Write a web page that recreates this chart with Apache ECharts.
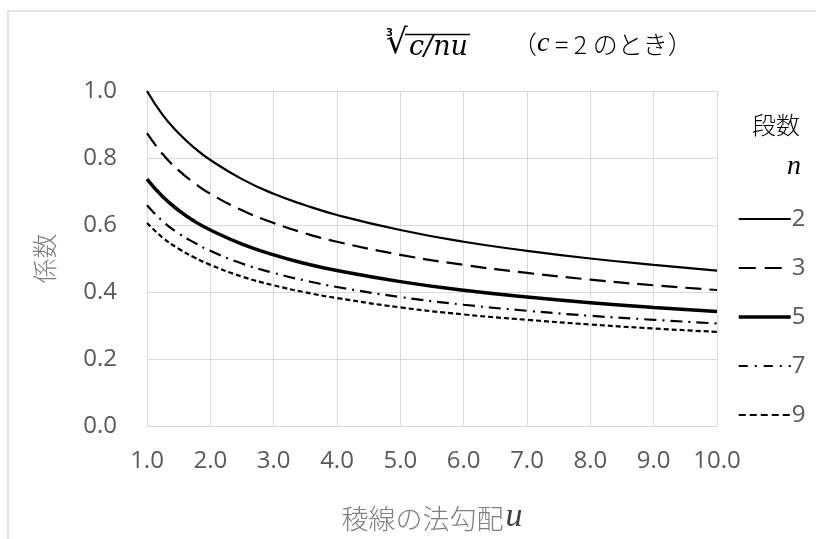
<!DOCTYPE html>
<html>
<head>
<meta charset="utf-8">
<script src="https://cdn.jsdelivr.net/npm/echarts@6/dist/echarts.min.js"></script>
<style>
html,body{margin:0;padding:0;background:#fff;}
#main{width:816px;height:539px;}
</style>
</head>
<body>
<div id="main"></div>
<script>
// 稜線の法勾配 u
var uValues = [1, 1.25, 1.5, 1.75, 2, 2.5, 3, 3.5, 4, 5, 6, 7, 8, 9, 10];
// 係数, one list per 段数 n
var n2 = [1.000, 0.928, 0.874, 0.830, 0.794, 0.737, 0.693, 0.659, 0.630, 0.585, 0.550, 0.523, 0.500, 0.481, 0.464];
var n3 = [0.874, 0.811, 0.763, 0.725, 0.693, 0.644, 0.606, 0.575, 0.550, 0.511, 0.481, 0.457, 0.437, 0.420, 0.406];
var n5 = [0.737, 0.684, 0.644, 0.611, 0.585, 0.543, 0.511, 0.485, 0.464, 0.431, 0.405, 0.385, 0.368, 0.354, 0.342];
var n7 = [0.659, 0.611, 0.575, 0.547, 0.523, 0.485, 0.457, 0.434, 0.415, 0.385, 0.362, 0.344, 0.329, 0.317, 0.306];
var n9 = [0.606, 0.562, 0.529, 0.503, 0.481, 0.446, 0.420, 0.399, 0.382, 0.354, 0.333, 0.317, 0.303, 0.291, 0.281];
var seriesNames = ['2', '3', '5', '7', '9'];
var xTicks = [1, 10, 1];   // min, max, step
var yTicks = [0, 1, 0.2];

function pairs(ys) {
	var out = [];
	for (var i = 0; i < uValues.length; i++) {
		out.push([uValues[i], ys[i]]);
	}
	return out;
}

var gray = '#595959';
var labelFont = '"Open Sans", "Noto Sans", sans-serif';

// 線の太さと破線パターン
var widths = [2.2, 2.2, 3.5, 2.2, 2.2];
var dashes = ['solid', [16, 8], 'solid', [12, 6, 2, 6], [5, 3]];
var legendDashes = ['solid', [17, 9], 'solid', [9, 7, 2, 7], [7, 4]];

function lineSeries(i, ys) {
	return {
		name : seriesNames[i],
		type : 'line',
		smooth : true,
		symbol : 'none',
		color : '#000',
		lineStyle : { color : '#000', width : widths[i], type : dashes[i] },
		data : pairs(ys)
	};
}

var legendData = [];
for (var k = 0; k < seriesNames.length; k++) {
	legendData.push({ name : seriesNames[k], lineStyle : { color : '#000', width : widths[k], type : legendDashes[k] } });
}

var option = {
	animation : false,
	backgroundColor : '#fff',
	grid : { left : 147, right : 99, top : 91, bottom : 112 },
	legend : {
		orient : 'vertical',
		left : 732,
		top : 202,
		itemWidth : 52,
		itemHeight : 16,
		itemGap : 25,
		data : legendData,
		itemStyle : { opacity : 0 },
		textStyle : { color : gray, fontSize : 24, fontFamily : labelFont, padding : [0, 0, 0, -4] }
	},
	xAxis : {
		type : 'value',
		min : xTicks[0],
		max : xTicks[1],
		interval : xTicks[2],
		axisLine : { show : false },
		axisTick : { show : false },
		axisLabel : {
			margin : 23,
			color : gray,
			fontSize : 24,
			fontFamily : labelFont,
			formatter : function(v) { return v.toFixed(1); }
		},
		splitLine : { show : true, lineStyle : { color : '#d9d9d9', width : 1 } },
		name : '{j|稜線の法勾配}{u|u}',
		nameLocation : 'middle',
		nameGap : 74,
		nameTextStyle : {
			rich : {
				j : { color : '#7f7f7f', fontSize : 27, fontFamily : '"Noto Sans CJK JP"', fontWeight : 300 },
				u : { color : '#404040', fontSize : 34, fontStyle : 'italic', fontFamily : '"Liberation Serif", serif', padding : [0, 0, 4, 2] }
			}
		}
	},
	yAxis : {
		type : 'value',
		min : yTicks[0],
		max : yTicks[1],
		interval : yTicks[2],
		axisLine : { show : false },
		axisTick : { show : false },
		axisLabel : {
			margin : 30,
			color : gray,
			fontSize : 24,
			fontFamily : labelFont,
			formatter : function(v) { return v.toFixed(1); }
		},
		splitLine : { show : true, lineStyle : { color : '#d9d9d9', width : 1 } },
		name : '係数',
		nameLocation : 'middle',
		nameRotate : 90,
		nameGap : 90,
		nameTextStyle : { color : '#7f7f7f', fontSize : 25, fontFamily : '"Noto Sans CJK JP"', fontWeight : 300 }
	},
	graphic : [
		{ type : 'rect', shape : { x : 8, y : 11, width : 900, height : 700 }, style : { fill : 'none', stroke : '#d9d9d9', lineWidth : 1.5 }, silent : true },
		{ type : 'text', left : 386, top : 28, style : { text : '3', fontSize : 10, fontWeight : 'bold', fontFamily : '"DejaVu Sans", sans-serif', fill : '#000' } },
		{ type : 'text', left : 386, top : 27, style : { text : '√', fontSize : 34, fontFamily : '"DejaVu Sans", sans-serif', fill : '#000' } },
		{ type : 'line', shape : { x1 : 405, y1 : 34.5, x2 : 470, y2 : 34.5 }, style : { stroke : '#000', lineWidth : 1.6 } },
		{ type : 'text', left : 409, top : 34, style : { text : 'c/nu', fontSize : 27, fontStyle : 'italic', fontFamily : '"DejaVu Serif", serif', fill : '#000' } },
		{ type : 'text', left : 512, top : 30, style : {
			text : '（{i|c} = 2 のとき）',
			fontSize : 25, fontFamily : '"Noto Sans CJK JP"', fontWeight : 300, fill : '#000',
			rich : { i : { fontSize : 28, fontStyle : 'italic', fontFamily : '"Liberation Serif", serif', fill : '#000' } }
		} },
		{ type : 'text', left : 752, top : 113, style : { text : '段数', fontSize : 24, fontFamily : '"Noto Sans CJK JP"', fontWeight : 300, fill : '#000' } },
		{ type : 'text', left : 787, top : 153, style : { text : 'n', fontSize : 28, fontStyle : 'italic', fontFamily : '"Liberation Serif", serif', fill : '#000' } }
	],
	series : [
		lineSeries(0, n2),
		lineSeries(1, n3),
		lineSeries(2, n5),
		lineSeries(3, n7),
		lineSeries(4, n9)
	]
};

var myChart = echarts.init(document.getElementById('main'), null, { renderer : 'canvas' });
myChart.setOption(option);
</script>
</body>
</html>
